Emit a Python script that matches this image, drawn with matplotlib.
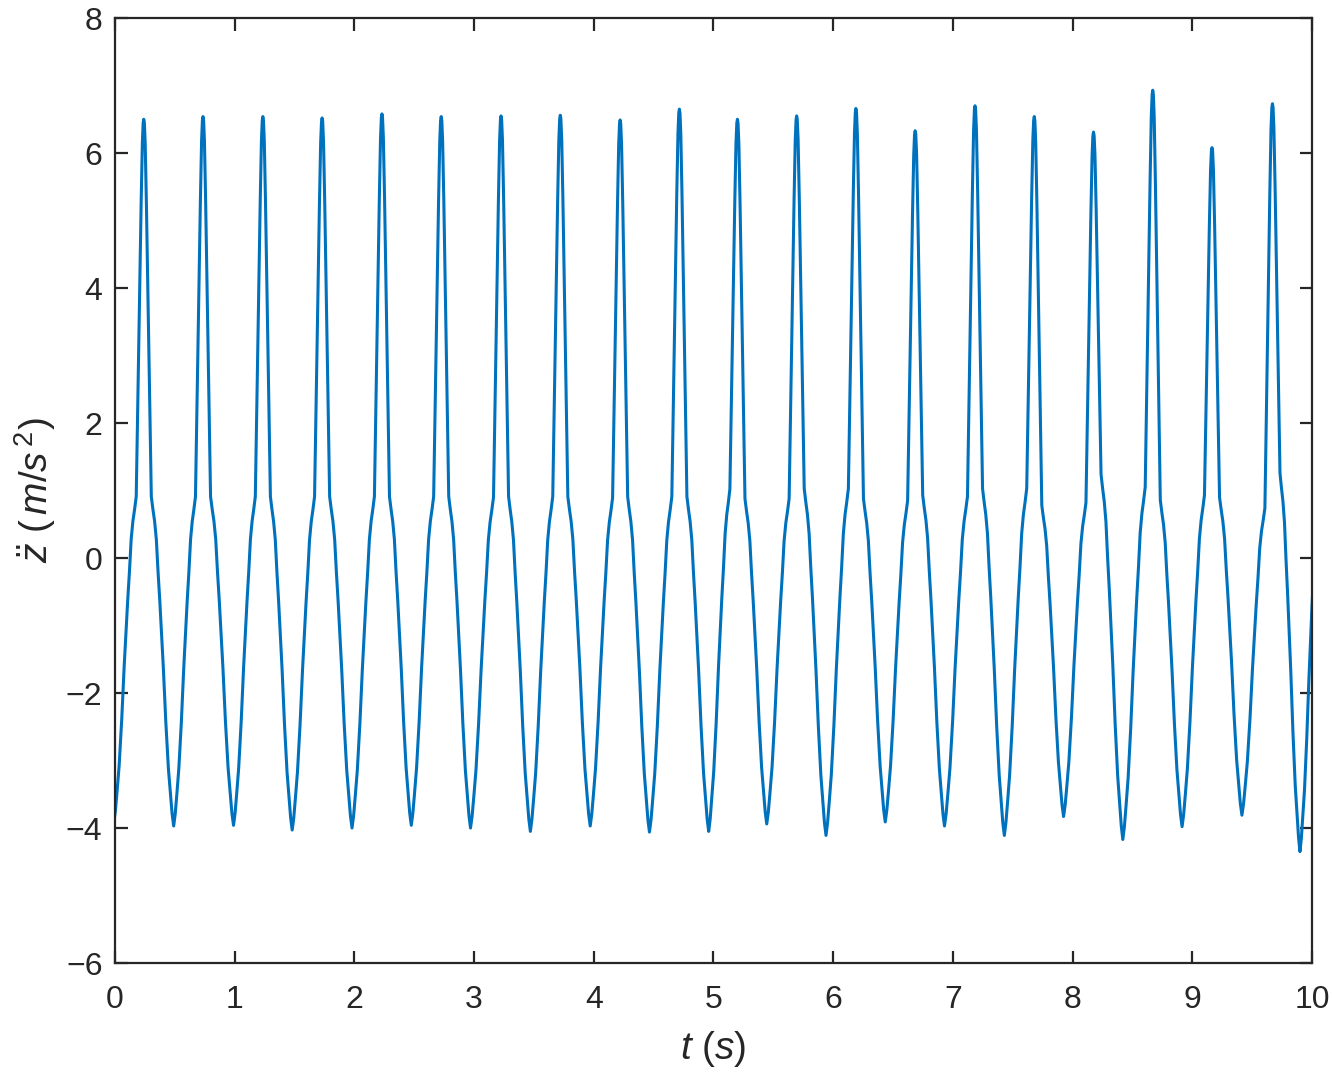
import matplotlib
matplotlib.use("Agg")
import matplotlib.pyplot as plt
import numpy as np

# peak times (s) and peak heights of the spikes
peak_t = [0.24, 0.735, 1.235, 1.73, 2.23, 2.725, 3.225, 3.72, 4.22, 4.715,
          5.20, 5.695, 6.19, 6.685, 7.185, 7.68, 8.175, 8.67, 9.165, 9.67]
peak_v = [6.50, 6.54, 6.54, 6.52, 6.58, 6.54, 6.55, 6.56, 6.49, 6.65,
          6.50, 6.55, 6.66, 6.33, 6.70, 6.54, 6.31, 6.93, 6.08, 6.73]

# troughs (one before each peak plus the last one)
trough_t = [-0.01, 0.49, 0.99, 1.48, 1.98, 2.475, 2.97, 3.47, 3.97, 4.465, 4.96,
            5.445, 5.94, 6.435, 6.93, 7.43, 7.925, 8.42, 8.915, 9.415, 9.90]
trough_v = [-3.92, -3.97, -3.96, -4.03, -4.00, -3.96, -4.00, -4.05, -3.97, -4.06, -4.05,
            -3.94, -4.11, -3.91, -3.97, -4.11, -3.83, -4.17, -3.98, -3.81, -4.35]

# knee where the smooth part meets the spike, left and right of each peak
shoulder_l = [0.91, 0.91, 0.91, 0.91, 0.91, 0.91, 0.90, 0.91, 0.89, 0.91,
              1.02, 0.88, 1.03, 0.85, 0.91, 1.03, 0.82, 1.05, 0.93, 0.74]
shoulder_r = [0.91, 0.91, 0.91, 0.91, 0.91, 0.91, 0.91, 0.91, 0.91, 0.91,
              0.88, 1.03, 0.88, 0.93, 1.03, 0.78, 1.24, 0.86, 0.90, 1.26]

flank_u = [0, 0.071, 0.148, 0.236, 0.352, 0.462, 0.544, 0.621, 0.698, 0.775, 0.852, 0.929, 1.0]
flank_g = [0, 0.037, 0.099, 0.174, 0.316, 0.48, 0.585, 0.684, 0.771, 0.87, 0.925, 0.962, 1.0]
spike_u = [0, 0.206, 0.444, 0.651, 0.81, 0.92, 1.0]
spike_g = [0, 0.246, 0.529, 0.777, 0.936, 0.99, 1.0]
half_w = 0.063

fu, fg = np.array(flank_u), np.array(flank_g)
su, sg = np.array(spike_u), np.array(spike_g)

t_all, z_all = [], []
for k in range(len(peak_t)):
    tp, pv = peak_t[k], peak_v[k]
    sl, sr = shoulder_l[k], shoulder_r[k]
    t0, v0 = trough_t[k], trough_v[k]
    t1, v1 = trough_t[k + 1], trough_v[k + 1]
    # rising flank
    t_all += list(t0 + fu * (tp - half_w - t0))
    z_all += list(v0 + fg * (sl - v0))
    # spike up and down
    t_all += list(tp - half_w + su[1:] * half_w)
    z_all += list(sl + sg[1:] * (pv - sl))
    t_all += list(tp + half_w - su[::-1][1:] * half_w)
    z_all += list(sr + sg[::-1][1:] * (pv - sr))
    # falling flank
    t_all += list(t1 - fu[::-1][1:] * (t1 - tp - half_w))
    z_all += list(v1 + fg[::-1][1:] * (sr - v1))
# last rise, cut off at t = 10
t_end = trough_t[-1]
t_all += list(t_end + fu[1:] * 0.16)
z_all += list(trough_v[-1] + fg[1:] * (0.9 - trough_v[-1]))

plt.rcParams['font.family'] = ['Liberation Sans', 'DejaVu Sans']
plt.rcParams['mathtext.fontset'] = 'custom'
plt.rcParams['mathtext.rm'] = 'Liberation Sans'
plt.rcParams['mathtext.it'] = 'Liberation Sans:italic'

fig = plt.figure(figsize=(13.33, 10.73), dpi=100)
ax = fig.add_axes([0.0863, 0.1025, 0.8979, 0.8807])
ax.plot(t_all, z_all, color='#0072BD', lw=2.2)

ax.set_xlim(0, 10)
ax.set_ylim(-6, 8)
ax.set_xticks(range(0, 11))
ax.set_yticks(range(-6, 9, 2))
ax.tick_params(direction='in', length=9, width=1.6, colors='#262626',
               labelsize=23, top=True, right=True)
ax.tick_params(axis='x', pad=16)
ax.tick_params(axis='y', pad=9)
for sp in ax.spines.values():
    sp.set_linewidth(1.6)
    sp.set_color('#262626')

ax.set_xlabel(r'$t\ (s)$', fontsize=28, color='#262626', labelpad=10)
ax.set_ylabel(r'$\ddot{z}\ (\,m/s^{\,2})$', fontsize=28, color='#262626', labelpad=6)

fig.savefig('out.png', dpi=100)
